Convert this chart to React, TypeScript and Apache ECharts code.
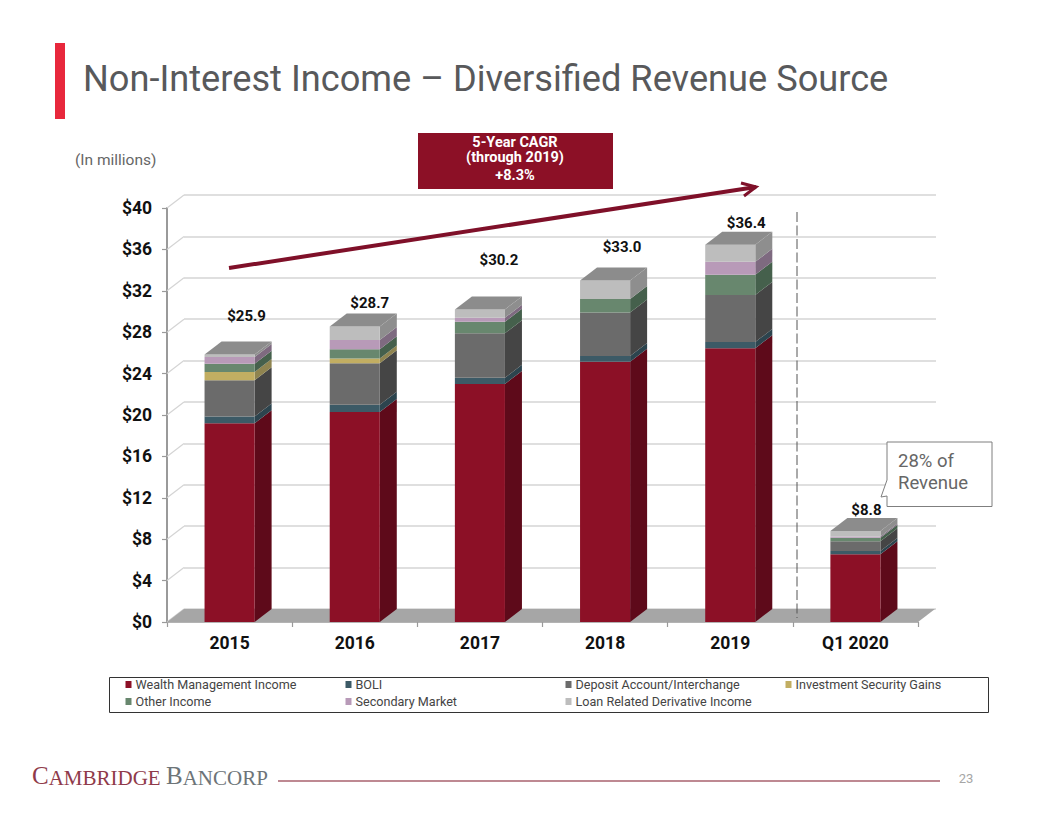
import React, { useEffect, useRef } from "react";
import * as echarts from "echarts";

const categories = ["2015", "2016", "2017", "2018", "2019", "Q1 2020"];
const wealth = [19.2, 20.3, 23.0, 25.15, 26.45, 6.55];
const boli = [0.65, 0.7, 0.6, 0.55, 0.6, 0.32];
const deposit = [3.5, 4.0, 4.3, 4.2, 4.55, 0.93];
const investment = [0.8, 0.45, 0, 0, 0, 0];
const other = [0.8, 0.9, 1.1, 1.3, 1.95, 0.35];
const secondary = [0.65, 0.9, 0.4, 0, 1.25, 0.1];
const loan = [0.25, 1.3, 0.8, 1.8, 1.65, 0.55];
const totals = ["$25.9", "$28.7", "$30.2", "$33.0", "$36.4", "$8.8"];
const totalValues = [25.7, 28.6, 30.2, 33.0, 36.4, 8.8];
const labelLift = [40, 23, 49, 33, 22, 21];
const labelNudge = [0, -2, 2, 0, -1, -6];
const seriesNames = [
  "Wealth Management Income",
  "BOLI",
  "Deposit Account/Interchange",
  "Investment Security Gains",
  "Other Income",
  "Secondary Market",
  "Loan Related Derivative Income",
];
const seriesValues = [wealth, boli, deposit, investment, other, secondary, loan];
const frontColors = ["#8c1026", "#3c5a66", "#6b6b6b", "#c2ae62", "#68876e", "#b89ab8", "#bdbdbd"];
const sideColors = ["#5e0a1a", "#2c444e", "#454545", "#8f8450", "#45604c", "#7e6a80", "#8e8e8e"];
const ticks = [0, 4, 8, 12, 16, 20, 24, 28, 32, 36, 40];

const DX = 17;
const DY = -13;
const FONT = "Roboto, sans-serif";
const GRAY = "#58595b";

function option() {
  let running = categories.map(() => 0);
  const stacks = seriesValues.map((vals, s) => {
    const data = vals.map((v, i) => {
      const base = running[i];
      return [i, base, base + v];
    });
    running = running.map((r, i) => r + vals[i]);
    return {
      type: "custom",
      name: seriesNames[s],
      xAxisIndex: 1,
      yAxisIndex: 1,
      itemStyle: { color: frontColors[s] },
      encode: { x: 0, y: [1, 2] },
      data,
      z: 3,
      renderItem: (_p: any, api: any) => {
        const i = api.value(0);
        const lo = api.value(1);
        const hi = api.value(2);
        if (hi - lo <= 0) return null;
        const band = api.size([1, 0])[0];
        const w = band * 0.4;
        const [cx, y0] = api.coord([i, lo]);
        const y1 = api.coord([i, hi])[1];
        const l = cx - w / 2;
        const r = cx + w / 2;
        const children: any[] = [
          { type: "polygon", shape: { points: [[r, y0], [r + DX, y0 + DY], [r + DX, y1 + DY], [r, y1]] }, style: { fill: sideColors[s] } },
          { type: "polygon", shape: { points: [[l, y0], [r, y0], [r, y1], [l, y1]] }, style: { fill: frontColors[s] } },
        ];
        if (s === seriesValues.length - 1) {
          children.push({
            type: "polygon",
            shape: { points: [[l, y1], [r, y1], [r + DX, y1 + DY], [l + DX, y1 + DY]] },
            style: { fill: "#8c8c8c" },
          });
        }
        return { type: "group", children };
      },
    };
  });

  const floor = {
    type: "custom",
    xAxisIndex: 1,
    yAxisIndex: 1,
    data: [[0, 0]],
    z: 2,
    silent: true,
    renderItem: (p: any) => {
      const c = p.coordSys;
      const b = c.y + c.height;
      return {
        type: "polygon",
        shape: { points: [[c.x, b], [c.x + c.width, b], [c.x + c.width + DX, b + DY], [c.x + DX, b + DY]] },
        style: { fill: "#a6a6a6" },
      };
    },
  };

  const wall = {
    type: "custom",
    xAxisIndex: 1,
    yAxisIndex: 1,
    data: ticks.map((t) => [0, t]),
    z: 1,
    silent: true,
    encode: { y: 1 },
    renderItem: (p: any, api: any) => {
      const y = api.coord([0, api.value(1)])[1];
      const x = p.coordSys.x;
      return { type: "line", shape: { x1: x, y1: y, x2: x + DX, y2: y + DY }, style: { stroke: "#d4d4d4", lineWidth: 1.2 } };
    },
  };

  const labels = {
    type: "custom",
    xAxisIndex: 1,
    yAxisIndex: 1,
    data: totalValues.map((v, i) => [i, v]),
    z: 5,
    silent: true,
    renderItem: (_p: any, api: any) => {
      const i = api.value(0);
      const [x, y] = api.coord([i, api.value(1)]);
      return {
        type: "text",
        x: x + DX + labelNudge[i],
        y: y - labelLift[i],
        style: { text: totals[i], fill: "#111", fontFamily: FONT, fontWeight: "bold", fontSize: 15, align: "center", verticalAlign: "middle" },
      };
    },
  };

  const text = (t: string, x: number, y: number, size: number, fill: string, extra: any = {}) => ({
    type: "text",
    x,
    y,
    z: 10,
    style: { text: t, fill, fontFamily: FONT, fontSize: size, verticalAlign: "middle", ...extra },
  });

  const legendRow = (names: string[], start: number, top: number) => ({
    left: 125.5,
    top,
    padding: 0,
    icon: "rect",
    itemWidth: 6,
    itemHeight: 7,
    itemGap: 15,
    selectedMode: false,
    data: names.map((name, s) => ({ name, itemStyle: { color: frontColors[start + s] } })),
    textStyle: { color: "#444", fontFamily: FONT, fontSize: 12.6, width: 195, height: 17, lineHeight: 17, padding: [0, 0, 0, -1] },
  });

  const serif = "'Liberation Serif', serif";
  const logoText = (t: string, rest: string, x: number, fill: string) => ({
    type: "text",
    x,
    y: 788,
    z: 10,
    style: {
      text: `{a|${t}}{b|${rest}}`,
      fill,
      verticalAlign: "bottom",
      rich: {
        a: { fontFamily: serif, fontSize: 25, fill, lineHeight: 26, verticalAlign: "bottom" },
        b: { fontFamily: serif, fontSize: 21, fill, lineHeight: 26, verticalAlign: "bottom" },
      },
    },
  });

  return {
    animation: false,
    backgroundColor: "#ffffff",
    grid: [
      { left: 167 + DX, top: 208 + DY, width: 752, height: 414 },
      { left: 167, top: 208, width: 751, height: 414 },
    ],
    xAxis: [
      { type: "category", gridIndex: 0, data: categories, show: false },
      {
        type: "category",
        gridIndex: 1,
        data: categories,
        axisLine: { show: true, lineStyle: { color: "#9a9a9a", width: 1.5 } },
        axisTick: { show: true, length: 5, lineStyle: { color: "#9a9a9a", width: 1.2 } },
        axisLabel: { color: "#111", fontFamily: FONT, fontWeight: "bold", fontSize: 17.5, margin: 12 },
      },
    ],
    yAxis: [
      {
        type: "value",
        gridIndex: 0,
        min: 0,
        max: 40,
        interval: 4,
        axisLine: { show: false },
        axisTick: { show: false },
        axisLabel: { show: false },
        splitLine: { show: true, lineStyle: { color: "#d4d4d4", width: 1.5 } },
      },
      {
        type: "value",
        gridIndex: 1,
        min: 0,
        max: 40,
        interval: 4,
        axisLine: { show: true, lineStyle: { color: "#9a9a9a", width: 2 } },
        axisTick: { show: true, length: 5, lineStyle: { color: "#9a9a9a", width: 1.2 } },
        axisLabel: { color: "#111", fontFamily: FONT, fontWeight: "bold", fontSize: 17.5, margin: 15, formatter: (v: number) => "$" + v },
        splitLine: { show: false },
      },
    ],
    legend: [
      legendRow(seriesNames.slice(0, 4), 0, 676),
      legendRow(seriesNames.slice(4), 4, 693),
    ],
    series: [wall, floor, ...stacks, labels],
    graphic: [
      { type: "rect", z: 10, shape: { x: 55, y: 43, width: 10, height: 76 }, style: { fill: "#e8283c" } },
      text("Non-Interest Income – Diversified Revenue Source", 83, 78, 36.2, GRAY),
      text("(In millions)", 75, 160, 15.5, "#666"),
      { type: "rect", z: 10, shape: { x: 418, y: 133, width: 195, height: 56 }, style: { fill: "#8c1026" } },
      text("5-Year CAGR", 515, 142, 14.5, "#fff", { align: "center", fontWeight: "bold" }),
      text("(through 2019)", 515, 157, 14.5, "#fff", { align: "center", fontWeight: "bold" }),
      text("+8.3%", 515, 175, 14.5, "#fff", { align: "center", fontWeight: "bold" }),
      { type: "line", z: 10, shape: { x1: 229, y1: 268, x2: 756, y2: 187 }, style: { stroke: "#7f1029", lineWidth: 4 } },
      { type: "polyline", z: 10, shape: { points: [[741, 183], [756, 187], [744, 196]] }, style: { stroke: "#7f1029", lineWidth: 3, fill: "none" } },
      { type: "line", z: 10, shape: { x1: 797, y1: 212, x2: 797, y2: 618 }, style: { stroke: "#555", lineWidth: 1, lineDash: [10, 3.5] } },
      {
        type: "polygon",
        z: 10,
        shape: { points: [[887, 442], [992, 442], [992, 506.5], [887, 506.5], [887, 496], [881, 497], [887, 480]] },
        style: { fill: "#fff", stroke: "#7f7f7f", lineWidth: 1 },
      },
      text("28% of", 898, 461, 18.5, "#666"),
      text("Revenue", 898, 483, 18.5, "#666"),
      { type: "rect", z: 1, shape: { x: 109.5, y: 677.5, width: 879, height: 35 }, style: { fill: "none", stroke: "#333", lineWidth: 1 } },
      logoText("C", "AMBRIDGE", 32, "#8f3a4a"),
      logoText("B", "ANCORP", 166, "#6d7478"),
      { type: "line", z: 10, shape: { x1: 278, y1: 781, x2: 940, y2: 781 }, style: { stroke: "#a8626e", lineWidth: 1.5 } },
      text("23", 966, 778, 13, "#a6a6a6", { align: "center" }),
    ],
  };
}

export default function App() {
  const ref = useRef<HTMLDivElement>(null);
  useEffect(() => {
    const chart = echarts.init(ref.current!, undefined, { renderer: "svg" });
    chart.setOption(option() as any);
    return () => chart.dispose();
  }, []);
  return <div ref={ref} style={{ position: "absolute", left: 0, top: 0, width: 1056, height: 816 }} />;
}
